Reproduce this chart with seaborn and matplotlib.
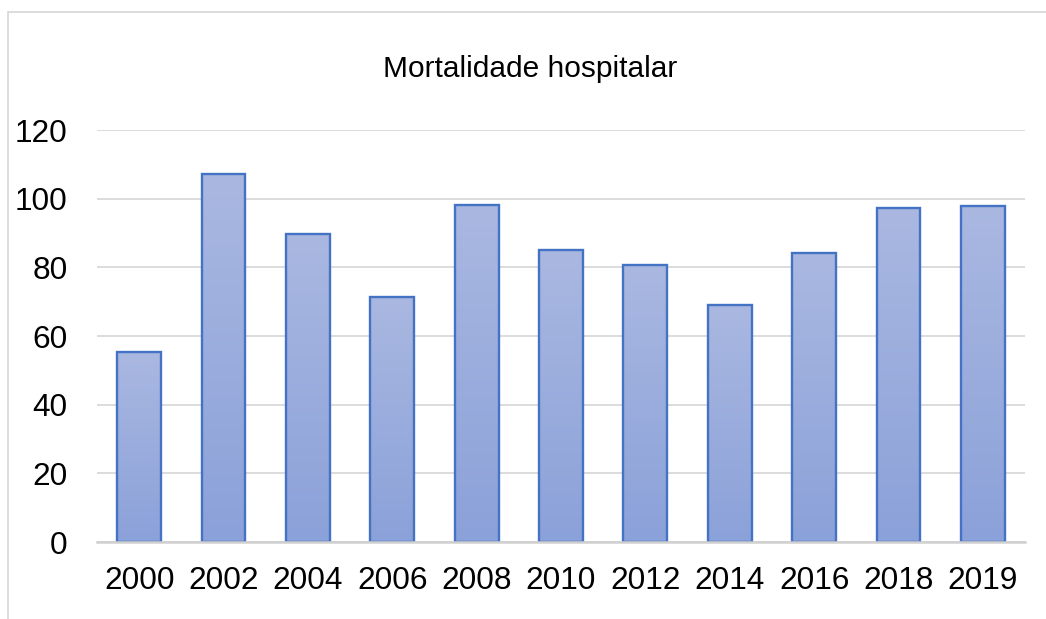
import numpy as np
import pandas as pd
import matplotlib
matplotlib.use("Agg")
import matplotlib.pyplot as plt
from matplotlib.colors import LinearSegmentedColormap
from matplotlib.patches import Rectangle
import seaborn as sns

# Data
years = ["2000", "2002", "2004", "2006", "2008", "2010", "2012", "2014", "2016", "2018", "2019"]
values = [55.4, 107.2, 89.8, 71.5, 98.3, 85.0, 80.8, 68.9, 84.1, 97.2, 97.9]
title = "Mortalidade hospitalar"
yticks = [0, 20, 40, 60, 80, 100, 120]

df = pd.DataFrame({"ano": years, "valor": values})

sns.set_theme(style="white")
plt.rcParams['font.family'] = ['Liberation Sans', 'DejaVu Sans']

W, H = 1046, 619
fig = plt.figure(figsize=(W / 100, H / 100), dpi=100)
ax = fig.add_axes([97 / W, 1 - 542 / H, (1025 - 97) / W, (542 - 130) / H])

sns.barplot(data=df, x="ano", y="valor", ax=ax, color="#9AAEDD",
            width=0.52, edgecolor="#4472C4", linewidth=1.7, zorder=3)

# gradient fill per bar
cmap = LinearSegmentedColormap.from_list("g", ["#8BA1D9", "#AAB8E1"])
grad = np.linspace(0, 1, 256).reshape(-1, 1)
for p in list(ax.patches):
    x0, y0 = p.get_x(), p.get_y()
    w, h = p.get_width(), p.get_height()
    p.set_facecolor("none")
    im = ax.imshow(grad, cmap=cmap, origin="lower", aspect="auto",
                   extent=[x0, x0 + w, y0, y0 + h], zorder=2.5,
                   interpolation="bilinear")
    im.set_clip_path(p)

ax.set_xlim(-0.5, len(years) - 0.5)
ax.set_ylim(0, 120)
ax.set_yticks(yticks)
ax.set_yticklabels([str(v) for v in yticks])
ax.set_xlabel("")
ax.set_ylabel("")

ax.grid(axis="y", color="#D9D9D9", linewidth=1.3, zorder=0)
ax.grid(axis="x", visible=False)
for s in ["top", "right", "left"]:
    ax.spines[s].set_visible(False)
ax.spines["bottom"].set_color("#D0D0D0")
ax.spines["bottom"].set_linewidth(1.8)
ax.spines["bottom"].set_zorder(4)

ax.tick_params(axis="y", length=0, pad=21, labelsize=22.8, labelcolor="black")
ax.tick_params(axis="x", length=0, pad=17, labelsize=22.8, labelcolor="black")

fig.text(530 / W, 1 - 77 / H, title, ha="center", va="baseline",
         fontsize=21.5, color="black")

# chart area border
fig.patches.append(Rectangle((8 / W, -0.1), 1.2, 1 - 12 / H + 0.1,
                             transform=fig.transFigure, fill=False,
                             edgecolor="#D9D9D9", linewidth=1.3))

fig.savefig("out.png", dpi=100)
